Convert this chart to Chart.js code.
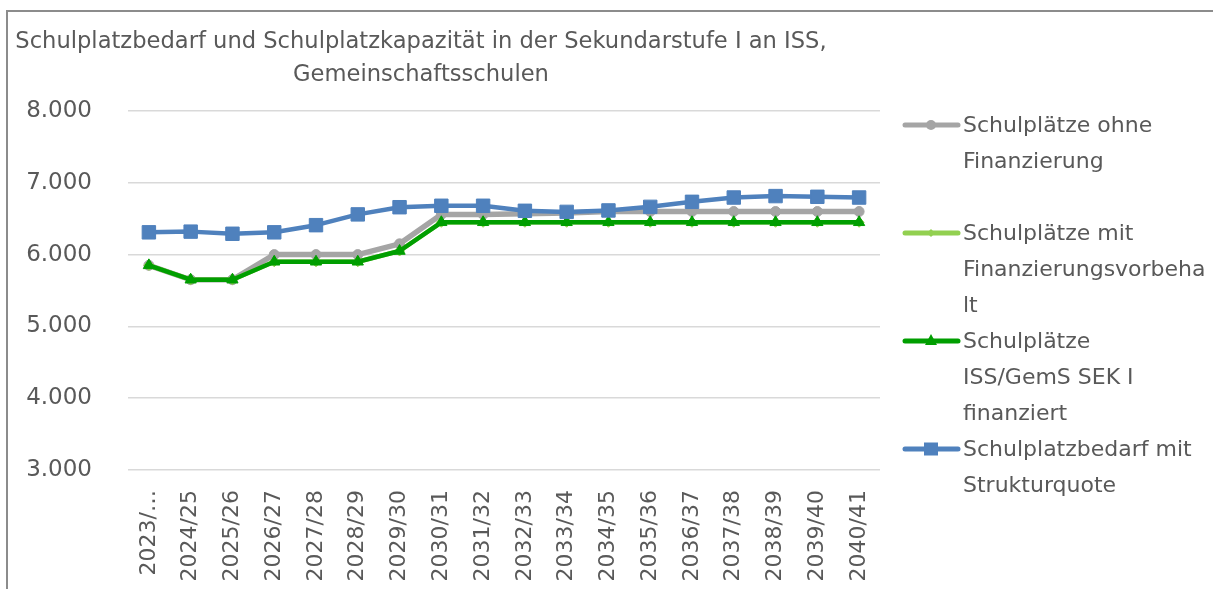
<!DOCTYPE html>
<html>
<head>
<meta charset="utf-8">
<script src="https://cdn.jsdelivr.net/npm/chart.js@4.4.0/dist/chart.umd.min.js"></script>
<style>
html,body{margin:0;padding:0;background:#fff;overflow:hidden;width:1213px;height:589px;}
#wrap{position:relative;width:1213px;height:589px;overflow:hidden;font-family:"DejaVu Sans",sans-serif;color:#595959;}
#frame{position:absolute;left:6px;top:10px;width:1400px;height:800px;border-left:2px solid #8c8c8c;border-top:2px solid #8c8c8c;}
#c{position:absolute;left:0;top:0;}
.title{position:absolute;left:0;width:842px;text-align:center;font-size:22.6px;white-space:nowrap;line-height:36px;}
.legrow{position:absolute;left:963px;font-size:22px;white-space:nowrap;line-height:36px;height:36px;}
.legsym{position:absolute;left:900px;}
</style>
</head>
<body>
<div id="wrap">
  <div id="frame"></div>
  <canvas id="c" width="1213" height="640"></canvas>
  <div class="title" style="top:22px;">Schulplatzbedarf und Schulplatzkapazität in der Sekundarstufe I an ISS,</div>
  <div class="title" style="top:55px;">Gemeinschaftsschulen</div>
  <div id="legend"></div>
</div>
<script>
// ---- data ----
const categories = ['2023/24','2024/25','2025/26','2026/27','2027/28','2028/29','2029/30','2030/31','2031/32','2032/33','2033/34','2034/35','2035/36','2036/37','2037/38','2038/39','2039/40','2040/41'];
const tickLabels = ['2023/…','2024/25','2025/26','2026/27','2027/28','2028/29','2029/30','2030/31','2031/32','2032/33','2033/34','2034/35','2035/36','2036/37','2037/38','2038/39','2039/40','2040/41'];
const ohneFinanzierung = [5850,5650,5650,6000,6000,6000,6150,6560,6560,6570,6580,6600,6600,6600,6600,6600,6600,6600];
const mitFinanzierungsvorbehalt = [5850,5650,5650,5900,5900,5900,6050,6450,6450,6450,6450,6450,6450,6450,6450,6450,6450,6450];
const finanziert = [5850,5650,5650,5900,5900,5900,6050,6450,6450,6450,6450,6450,6450,6450,6450,6450,6450,6450];
const bedarfStrukturquote = [6310,6320,6290,6310,6410,6560,6660,6680,6680,6610,6595,6615,6665,6735,6795,6815,6805,6795];
const yTickValues = [3000,4000,5000,6000,7000,8000];
const seriesNames = ['Schulplätze ohne Finanzierung','Schulplätze mit Finanzierungsvorbehalt','Schulplätze ISS/GemS SEK I finanziert','Schulplatzbedarf mit Strukturquote'];
const legendLines = [['Schulplätze ohne','Finanzierung'],['Schulplätze mit','Finanzierungsvorbeha','lt'],['Schulplätze','ISS/GemS SEK I','finanziert'],['Schulplatzbedarf mit','Strukturquote']];

const colors = ['#A5A5A5','#92D050','#009E00','#4F81BD'];
const styles = ['circle','rectRot','triangle','rect'];
const radii = [5,5,6.5,9.5];
const widths = [5.5,4.5,4.5,4.5];
const orders = [4,3,2,1];
const values = [ohneFinanzierung, mitFinanzierungsvorbehalt, finanziert, bedarfStrukturquote];

const fmt = v => String(v).replace(/\B(?=(\d{3})+(?!\d))/g,'.');

const datasets = values.map((d,i)=>({
  label: seriesNames[i],
  data: d,
  borderColor: colors[i],
  backgroundColor: colors[i],
  pointBackgroundColor: colors[i],
  pointBorderColor: colors[i],
  pointBorderWidth: 1,
  pointStyle: styles[i],
  pointRadius: radii[i],
  borderWidth: widths[i],
  borderJoinStyle: 'round',
  borderCapStyle: 'round',
  tension: 0,
  order: orders[i]
}));

new Chart(document.getElementById('c'), {
  type: 'line',
  data: { labels: categories, datasets },
  options: {
    responsive: false,
    animation: false,
    devicePixelRatio: 1,
    layout: { padding: { top: 111, left: 0, right: 333, bottom: 0 } },
    plugins: { legend: { display: false }, title: { display: false }, tooltip: { enabled: false } },
    scales: {
      x: {
        type: 'category',
        offset: true,
        grid: { display: false, drawTicks: false },
        border: { display: false },
        ticks: {
          autoSkip: false, minRotation: 90, maxRotation: 90, padding: 20,
          color: '#595959', font: { family: 'DejaVu Sans', size: 22 },
          callback: (v, i) => tickLabels[i]
        },
        afterFit: s => { s.height = 640 - 470; }
      },
      y: {
        min: 3000, max: 8000,
        afterBuildTicks: s => { s.ticks = yTickValues.map(v => ({ value: v })); },
        grid: { color: '#D9D9D9', lineWidth: 1.5, drawTicks: false },
        border: { display: false },
        ticks: {
          padding: 36, color: '#595959', font: { family: 'DejaVu Sans', size: 23 },
          callback: v => fmt(v)
        },
        afterFit: s => { s.width = 128; }
      }
    }
  }
});

// ---- HTML legend ----
const leg = document.getElementById('legend');
let row = 0;
const rowTop = 125 - 18;
legendLines.forEach((lines, i) => {
  const center = rowTop + 18 + row * 36;
  const svgNS = 'http://www.w3.org/2000/svg';
  const svg = document.createElementNS(svgNS, 'svg');
  svg.setAttribute('width', '64'); svg.setAttribute('height', '24');
  svg.setAttribute('class', 'legsym');
  svg.style.top = (center - 12) + 'px';
  const ln = document.createElementNS(svgNS, 'line');
  ln.setAttribute('x1', '5'); ln.setAttribute('x2', '58'); ln.setAttribute('y1', '12'); ln.setAttribute('y2', '12');
  ln.setAttribute('stroke', colors[i]); ln.setAttribute('stroke-width', '5'); ln.setAttribute('stroke-linecap', 'round');
  svg.appendChild(ln);
  let m;
  const cx = 31, cy = 12;
  if (styles[i] === 'circle') { m = document.createElementNS(svgNS, 'circle'); m.setAttribute('cx', cx); m.setAttribute('cy', cy); m.setAttribute('r', 5); }
  else if (styles[i] === 'rect') { m = document.createElementNS(svgNS, 'rect'); m.setAttribute('x', cx - 7); m.setAttribute('y', cy - 6.5); m.setAttribute('width', 14); m.setAttribute('height', 13); }
  else if (styles[i] === 'triangle') { m = document.createElementNS(svgNS, 'polygon'); m.setAttribute('points', `${cx},${cy-7} ${cx+6},${cy+4} ${cx-6},${cy+4}`); }
  else { m = document.createElementNS(svgNS, 'polygon'); m.setAttribute('points', `${cx},${cy-4} ${cx+4},${cy} ${cx},${cy+4} ${cx-4},${cy}`); }
  m.setAttribute('fill', colors[i]);
  svg.appendChild(m);
  leg.appendChild(svg);
  lines.forEach((t, k) => {
    const d = document.createElement('div');
    d.className = 'legrow';
    d.style.top = (rowTop + (row + k) * 36) + 'px';
    d.textContent = t;
    leg.appendChild(d);
  });
  row += lines.length + (i === 0 ? 1 : 0);
});
</script>
</body>
</html>
